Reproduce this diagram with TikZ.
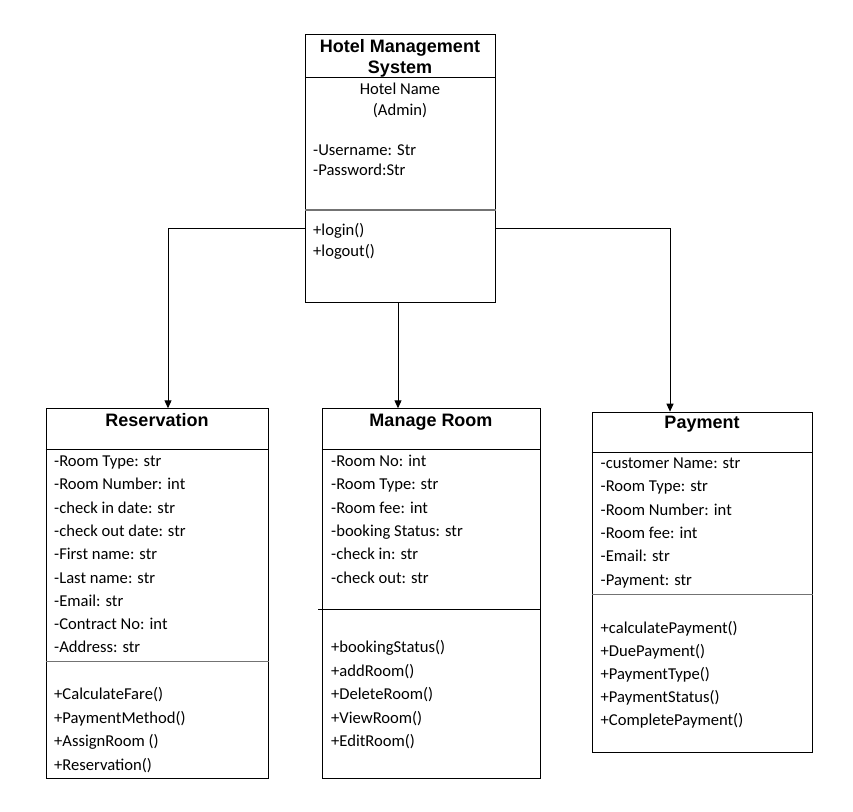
\documentclass[tikz,border=0pt]{standalone}
\usepackage{fontspec}
\usetikzlibrary{arrows.meta}
\newfontfamily\bodyf{Carlito}
\newfontfamily\headf{Liberation Sans}
\tikzset{
  classbox/.style={draw=black, line width=1pt, inner sep=0pt, anchor=north west},
  title/.style={font=\headf\bfseries\fontsize{18}{20}\selectfont, inner sep=0pt, anchor=base},
  txt/.style={font=\bodyf\fontsize{16.6}{19}\selectfont, inner sep=0pt, anchor=base west},
  ctxt/.style={font=\bodyf\fontsize{16.6}{19}\selectfont, inner sep=0pt, anchor=base},
  rule/.style={line width=1pt, black},
  grule/.style={line width=1.3pt, black!55},
  conn/.style={line width=1pt, black, -{Triangle[length=8pt,width=7pt]}}
}
\begin{document}
\begin{tikzpicture}[x=1pt,y=-1pt]
\useasboundingbox[fill=white] (0,0) rectangle (853,811);

% ---------- top class ----------
\node[classbox, minimum width=190pt, minimum height=268pt] (top) at (305,34) {};
\draw[rule] (top.west |- 0,77.3) -- (top.east |- 0,77.3);
\draw[grule] (top.west |- 0,210) -- (top.east |- 0,210);
\node[title] (t1) at (400,52) {Hotel Management};
\node[title] (t2) at (400,73) {System};
\node[ctxt] (hn) at (400,94.5) {Hotel Name};
\node[ctxt] (ad) at (400,115) {(Admin)};
\node[txt] (u1) at (313,155) {-Username: Str};
\node[txt] (u2) at (313,175.5) {-Password:Str};
\node[txt] (m1) at (313,235.5) {+login()};
\node[txt] (m2) at (313,256.5) {+logout()};

% ---------- Reservation ----------
\node[classbox, minimum width=222pt, minimum height=369.5pt] (res) at (45.5,408.3) {};
\draw[rule] (res.west |- 0,449.3) -- (res.east |- 0,449.3);
\draw[grule] (res.west |- 0,661.7) -- (res.east |- 0,661.7);
\node[title] (rt) at (157,426) {Reservation};
\foreach \t [count=\i] in {-Room Type: str,-Room Number: int,-check in date: str,-check out date: str,-First name: str,-Last name: str,-Email: str,-Contract No: int,-Address: str}
  \node[txt] (ra\i) at (54,{466.5+23.3*(\i-1)}) {\t};
\foreach \t [count=\i] in {+CalculateFare(),+PaymentMethod(),+AssignRoom (),+Reservation()}
  \node[txt] (rm\i) at (54,{699.5+23.6*(\i-1)}) {\t};

% ---------- Manage Room ----------
\node[classbox, minimum width=218.5pt, minimum height=370pt] (mr) at (321.5,408.3) {};
\draw[rule] (mr.west |- 0,449.3) -- (mr.east |- 0,449.3);
\draw[rule] (318.3,609.3) -- (mr.east |- 0,609.3);
\node[title] (mt) at (431,426) {Manage Room};
\foreach \t [count=\i] in {-Room No: int,-Room Type: str,-Room fee: int,-booking Status: str,-check in: str,-check out: str}
  \node[txt] (ma\i) at (331,{466.5+23.3*(\i-1)}) {\t};
\foreach \t [count=\i] in {+bookingStatus(),+addRoom(),+DeleteRoom(),+ViewRoom(),+EditRoom()}
  \node[txt] (mm\i) at (331,{652.5+23.5*(\i-1)}) {\t};

% ---------- Payment ----------
\node[classbox, minimum width=220.5pt, minimum height=340pt] (pay) at (591.7,411.7) {};
\draw[rule] (pay.west |- 0,452.3) -- (pay.east |- 0,452.3);
\draw[grule] (pay.west |- 0,594.3) -- (pay.east |- 0,594.3);
\node[title] (pt) at (702,428) {Payment};
\foreach \t [count=\i] in {-customer Name: str,-Room Type: str,-Room Number: int,-Room fee: int,-Email: str,-Payment: str}
  \node[txt] (pa\i) at (600.5,{468.5+23.3*(\i-1)}) {\t};
\foreach \t [count=\i] in {+calculatePayment(),+DuePayment(),+PaymentType(),+PaymentStatus(),+CompletePayment()}
  \node[txt] (pm\i) at (600.5,{633.5+23*(\i-1)}) {\t};

% ---------- connectors ----------
\coordinate (resin) at (168,408.3);
\coordinate (mrin) at (398,408.3);
\coordinate (payin) at (670,411.7);
\draw[conn] (top.west |- 0,228.5) -| (resin);
\draw[conn] (mrin |- top.south) -- (mrin);
\draw[conn] (top.east |- 0,228.5) -| (payin);
\end{tikzpicture}
\end{document}
